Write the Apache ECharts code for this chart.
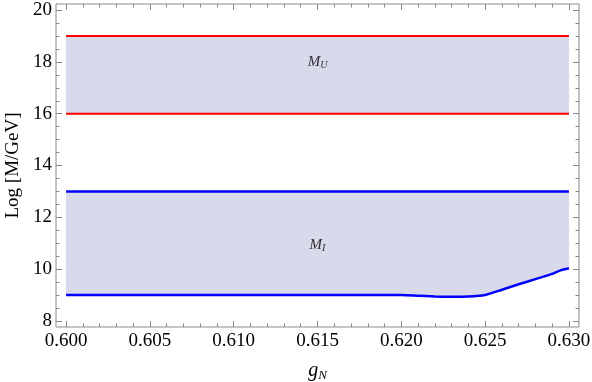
<!DOCTYPE html>
<html>
<head>
<meta charset="utf-8">
<script src="https://cdn.jsdelivr.net/npm/echarts@6/dist/echarts.min.js"></script>
<style>
  html, body { margin: 0; padding: 0; background: #fff; }
  #chart { width: 592px; height: 382px; }
</style>
</head>
<body>
<div id="chart"></div>
<script>
// tick labels
const xTicks = [0.600, 0.605, 0.610, 0.615, 0.620, 0.625, 0.630];
const yTicks = [8, 10, 12, 14, 16, 18, 20];

// M_U band (flat) and M_I band (upper edge flat, lower edge a curve)
const bandX = [0.600, 0.630];
const upperBand = [16, 19];
const lowerTop = 13;
const curveX = [0.600, 0.605, 0.610, 0.615, 0.620, 0.621, 0.622, 0.623, 0.624, 0.625, 0.626, 0.627, 0.628, 0.629, 0.6295, 0.630];
const curveY = [9.00, 9.00, 9.00, 9.00, 9.00, 8.97, 8.94, 8.93, 8.94, 9.00, 9.20, 9.41, 9.61, 9.81, 9.95, 10.03];

// band labels: x, y, subscript
const bandLabels = [[0.615, 18, 'U'], [0.615, 10.93, 'I']];

const font = 'Liberation Serif, Times New Roman, serif';
const frameColor = '#8a8a8a';
const fillColor = '#d9d9ec';

// minor tick positions (every 0.001 on x, every 0.5 on y)
const xMinor = [];
for (let i = 0; i <= 30; i++) if (i % 5) xMinor.push(+(0.6 + i * 0.001).toFixed(3));
const yMinor = [];
for (let v = 8; v <= 20; v += 0.5) if (v % 2) yMinor.push(v);

function axis(dim, position, ticks, len, labels) {
  const a = {
    type: 'value',
    position: position,
    min: dim === 'x' ? 0.5994 : 7.76,
    max: dim === 'x' ? 0.6306 : 20.24,
    axisLine: { show: false },
    splitLine: { show: false },
    axisTick: { inside: true, length: len, customValues: ticks, lineStyle: { color: frameColor, width: 1 } },
    axisLabel: { show: false },
  };
  if (labels) {
    a.axisLabel = {
      show: true,
      customValues: ticks,
      margin: dim === 'x' ? 5 : 4,
      color: '#000',
      fontFamily: font,
      fontSize: 19,
      formatter: dim === 'x' ? (v => v.toFixed(3)) : (v => String(v)),
    };
  }
  return a;
}

const xMain = axis('x', 'bottom', xTicks, 6, true);
xMain.name = '{g|g}{n|N}';
xMain.nameLocation = 'middle';
xMain.nameGap = 33;
xMain.nameTextStyle = {
  rich: {
    g: { fontFamily: font, fontStyle: 'italic', fontSize: 20, color: '#000', lineHeight: 22, verticalAlign: 'middle' },
    n: { fontFamily: font, fontStyle: 'italic', fontSize: 13, color: '#000', lineHeight: 14, verticalAlign: 'bottom' },
  },
};

const yMain = axis('y', 'left', yTicks, 6, true);
yMain.name = 'Log [M/GeV]';
yMain.nameLocation = 'middle';
yMain.nameGap = 33;
yMain.nameTextStyle = { fontFamily: font, fontSize: 19, color: '#000' };

const line = (data, color, width, extra) => Object.assign({
  type: 'line', data: data, symbol: 'none', silent: true,
  lineStyle: { color: color, width: width },
}, extra || {});

// outline of each shaded band: lower edge left->right, upper edge right->left
function bandOutline(i) {
  if (i === 0) {
    return bandX.map(x => [x, upperBand[0]])
      .concat(bandX.slice().reverse().map(x => [x, upperBand[1]]));
  }
  return curveX.map((x, k) => [x, curveY[k]])
    .concat(bandX.slice().reverse().map(x => [x, lowerTop]));
}

const chart = echarts.init(document.getElementById('chart'), null, { renderer: 'canvas' });
chart.setOption({
  backgroundColor: '#fff',
  animation: false,
  grid: {
    left: 56, right: 13, top: 4, bottom: 55,
    show: true, borderColor: frameColor, borderWidth: 1,
    outerBoundsMode: 'none',
  },
  xAxis: [
    xMain,
    axis('x', 'bottom', xMinor, 3.5, false),
    axis('x', 'top', xTicks, 6, false),
    axis('x', 'top', xMinor, 3.5, false),
  ],
  yAxis: [
    yMain,
    axis('y', 'left', yMinor, 3.5, false),
    axis('y', 'right', yTicks, 6, false),
    axis('y', 'right', yMinor, 3.5, false),
  ],
  series: [
    // shaded bands
    {
      type: 'custom', silent: true,
      data: [[0], [1]],
      renderItem: (params, api) => ({
        type: 'polygon',
        shape: { points: bandOutline(params.dataIndex).map(p => api.coord(p)) },
        style: { fill: fillColor, stroke: null },
      }),
    },
    // edges
    line(bandX.map(x => [x, upperBand[0]]), '#ff0000', 2),
    line(bandX.map(x => [x, upperBand[1]]), '#ff0000', 2),
    line(bandX.map(x => [x, lowerTop]), '#0000ff', 2.5),
    line(curveX.map((x, i) => [x, curveY[i]]), '#0000ff', 2.5, { smooth: 0.2 }),
    // band names
    {
      type: 'scatter', symbolSize: 0, silent: true,
      data: bandLabels,
      label: {
        show: true, position: 'inside',
        formatter: p => '{m|M}{s|' + p.data[2] + '}',
        rich: {
          m: { fontFamily: font, fontStyle: 'italic', fontSize: 15, color: '#000', lineHeight: 16, verticalAlign: 'middle' },
          s: { fontFamily: font, fontStyle: 'italic', fontSize: 10, color: '#000', lineHeight: 10, verticalAlign: 'bottom' },
        },
      },
    },
  ],
});
</script>
</body>
</html>
